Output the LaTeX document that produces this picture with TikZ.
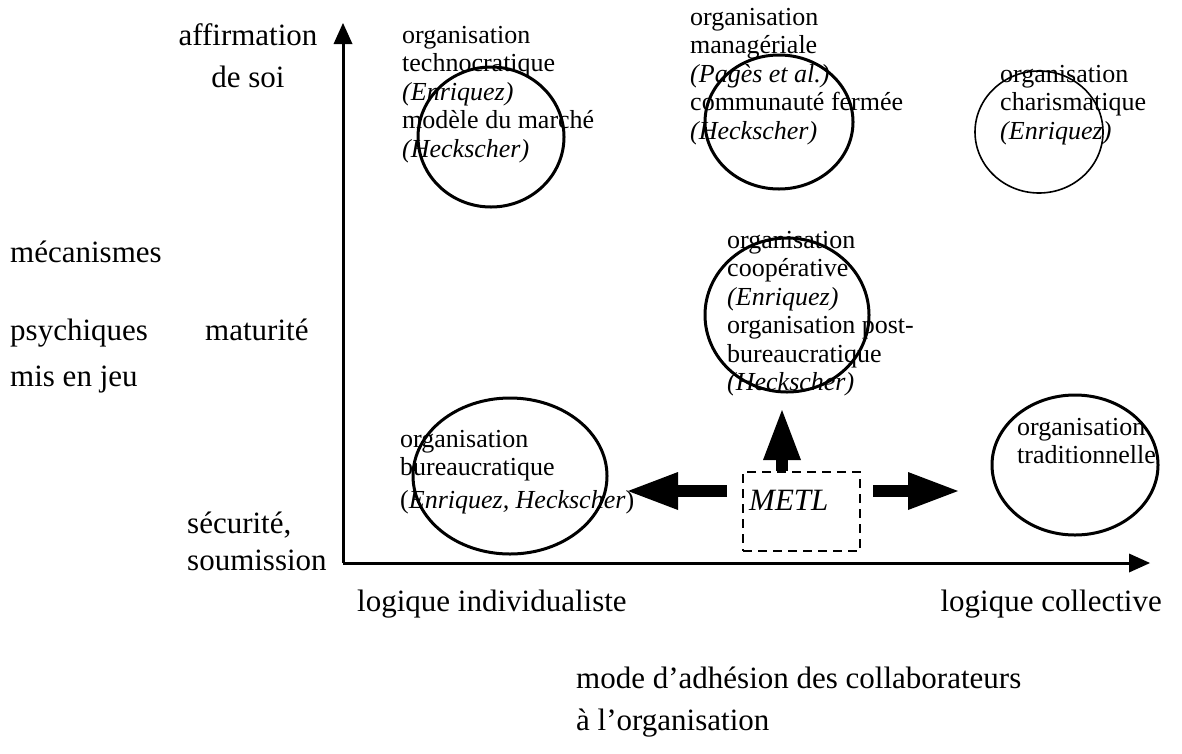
\documentclass[tikz,border=0pt]{standalone}
\usepackage{fontspec}
\setmainfont{Liberation Serif}
\usetikzlibrary{arrows.meta,positioning,calc}

\tikzset{
  axis/.style={line width=3pt,-{Triangle[length=21pt,width=19pt,line width=0pt]}},
  ring/.style={line width=3pt},
  thinring/.style={line width=1.6pt},
  bubble/.style={font=\fontsize{26}{28.5}\selectfont,align=left,anchor=base west,inner sep=0pt},
  axislabel/.style={font=\fontsize{31}{37}\selectfont,inner sep=0pt},
  metlbox/.style={draw,line width=2pt,dash pattern=on 9pt off 6pt,inner sep=0pt},
  bigarrow/.style={line width=12pt,-{Triangle[length=50pt,width=38pt,line width=0pt]}},
}

\begin{document}
\begin{tikzpicture}[x=1pt,y=-1pt]
\useasboundingbox (0,0) rectangle (1182,753);
% axes
\coordinate (origin) at (343,563);
\coordinate (ytip) at (343,23);
\coordinate (xtip) at (1150,563);
\draw[axis] (origin) -- (ytip);
\draw[axis] (origin) -- (xtip);

% vertical axis labels (base = last line)
\node[axislabel,font=\fontsize{31}{42}\selectfont,align=center,anchor=base] (affirm) at (248,87) {affirmation\\de soi};
\node[axislabel,anchor=base west] (matur) at (205,340) {maturité};
\node[axislabel,align=left,anchor=base west] (secur) at (187,570) {sécurité,\\soumission};
\node[axislabel,anchor=base west] (mecan) at (10,262) {mécanismes};
\node[axislabel,anchor=base west] (psych) at (10,340) {psychiques};
\node[axislabel,anchor=base west] (misjeu) at (10,386) {mis en jeu};

% horizontal axis labels
\node[axislabel,anchor=base west] (indiv) at (357,611) {logique individualiste};
\node[axislabel,anchor=base east] (collec) at (1162,611) {logique collective};
\node[axislabel,font=\fontsize{31}{42}\selectfont,align=left,anchor=base west] (adhes) at (576,730) {mode d'adhésion des collaborateurs\\à l'organisation};

% organisation types
\draw[ring] (491,137) ellipse [x radius=73pt,y radius=70pt];
\node[bubble] (techno) at (402,157) {organisation\\technocratique\\\textit{(Enriquez)}\\modèle du marché\\\textit{(Heckscher)}};
\draw[ring] (779,122) ellipse [x radius=74pt,y radius=67pt];
\node[bubble] (manag) at (690,139) {organisation\\managériale\\\textit{(Pagès et al.)}\\communauté fermée\\\textit{(Heckscher)}};
\draw[thinring] (1039,132) ellipse [x radius=64pt,y radius=61pt];
\node[bubble] (charis) at (1000,139) {organisation\\charismatique\\\textit{(Enriquez)}};
\draw[ring] (787,315) ellipse [x radius=82pt,y radius=77pt];
\node[bubble] (coop) at (727,390.5) {organisation\\coopérative\\\textit{(Enriquez)}\\organisation post-\\bureaucratique\\\textit{(Heckscher)}};
\draw[ring] (510,476) ellipse [x radius=97pt,y radius=78pt];
\node[bubble] (bureau) at (400,508.5) {organisation\\bureaucratique\\[4.5pt](\textit{Enriquez, Heckscher})};
\draw[ring] (1075,465) ellipse [x radius=83pt,y radius=70pt];
\node[bubble] (tradit) at (1017,463.5) {organisation\\traditionnelle};

% METL and its directions
\node[metlbox,minimum width=117pt,minimum height=79pt] (metl) at (801.5,511.5) {};
\node[axislabel,font=\itshape\fontsize{31}{37}\selectfont,anchor=base west] (metllabel) at ([xshift=7pt,yshift=1.5pt]metl.west) {METL};
\coordinate (uptip) at (782,410);
\coordinate (lefttip) at (628,491);
\coordinate (righttip) at (958,491);
\draw[bigarrow] (metl.north -| uptip) -- (uptip);
\draw[bigarrow] ($(metl.west |- lefttip)+(-15,0)$) -- (lefttip);
\draw[bigarrow] ($(metl.east |- righttip)+(12,0)$) -- (righttip);
\end{tikzpicture}
\end{document}
